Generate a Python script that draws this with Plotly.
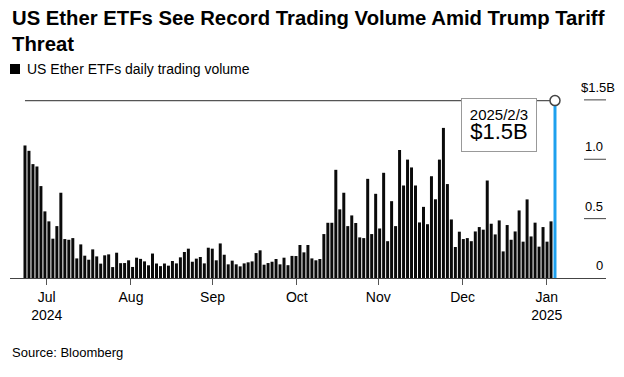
import pandas as pd
import plotly.graph_objects as go

# ---------------- data ----------------
title_text = "US Ether ETFs See Record Trading Volume Amid Trump Tariff<br>Threat"
series_name = "US Ether ETFs daily trading volume"
source_text = "Source: Bloomberg"

start_date = "2024-07-23"
end_date = "2025-02-03"
market_holidays = ["2024-09-02", "2024-11-28", "2024-12-25",
                   "2025-01-01", "2025-01-09", "2025-01-20"]

# daily trading volume, $ billions (one value per trading day)
volume_bn = [
    1.116, 1.071, 0.959, 0.939, 0.774, 0.561, 0.477, 0.331, 0.437, 0.718,
    0.328, 0.322, 0.336, 0.165, 0.283, 0.188, 0.154, 0.241, 0.182, 0.121,
    0.191, 0.199, 0.092, 0.213, 0.125, 0.126, 0.149, 0.093, 0.171, 0.161,
    0.140, 0.107, 0.206, 0.122, 0.100, 0.122, 0.104, 0.143, 0.123, 0.174,
    0.219, 0.247, 0.137, 0.163, 0.177, 0.123, 0.255, 0.247, 0.149, 0.291,
    0.196, 0.115, 0.146, 0.115, 0.098, 0.123, 0.132, 0.140, 0.210, 0.233,
    0.112, 0.126, 0.137, 0.160, 0.115, 0.171, 0.108, 0.186, 0.185, 0.278,
    0.216, 0.278, 0.165, 0.149, 0.160, 0.370, 0.465, 0.465, 0.911, 0.578,
    0.718, 0.437, 0.527, 0.463, 0.342, 0.336, 0.835, 0.370, 0.709, 0.417,
    0.886, 0.310, 0.647, 0.437, 1.078, 0.779, 0.997, 0.931, 0.779, 0.468,
    0.599, 0.453, 0.857, 0.663, 0.997, 1.264, 0.791, 0.493, 0.261, 0.390,
    0.328, 0.336, 0.310, 0.392, 0.429, 0.407, 0.821, 0.457, 0.367, 0.485,
    0.224, 0.446, 0.322, 0.392, 0.569, 0.306, 0.662, 0.350, 0.466, 0.264,
    0.429, 0.306, 0.477, 1.494,
]

month_ticks = ["2024-07-31", "2024-08-31", "2024-09-30", "2024-10-31",
               "2024-11-30", "2024-12-31", "2025-01-31"]
month_labels = ["Jul<br>2024", "Aug", "Sep", "Oct", "Nov", "Dec", "Jan<br>2025"]

y_tick_vals = [0, 0.5, 1.0, 1.5]
y_tick_text = ["0", "0.5", "1.0", "$1.5B"]

highlight_date_label = "2025/2/3"
highlight_value_label = "$1.5B"

# ---------------- build ----------------
trading_days = [d for d in pd.bdate_range(start_date, end_date)
                if d.strftime("%Y-%m-%d") not in market_holidays]
cats = [d.strftime("%Y-%m-%d") for d in trading_days]
n = len(cats)

BLACK = "#0a0a0a"
BLUE = "#1ea0ee"
GREY = "#555555"
FONT = "Liberation Sans, Arial, sans-serif"

colors = [BLACK] * (n - 1) + [BLUE]

# the page body adds an 8px offset; lay out in window pixels and convert
OFF = 8
W, H = 616, 369
PLOT_L, PLOT_R, PLOT_T, PLOT_B = 10, 606, 88, 278   # window pixels
ML = PLOT_L - OFF
MR = W - (PLOT_R - OFF)
MT = PLOT_T - OFF
MB = H - (PLOT_B - OFF)
PW = PLOT_R - PLOT_L
PH = PLOT_B - PLOT_T

def px_x(p):
    return (p - PLOT_L) / PW

def px_y(p):
    return (PLOT_B - p) / PH

# index-range of the bar axis (padding either side of the bars)
idx_lo, idx_hi = -3.76, 145.8
# matching calendar axis for month ticks
d0, d1 = trading_days[0], trading_days[-1]
days_per_idx = (d1 - d0).days / (n - 1)
cal_lo = d0 + pd.Timedelta(days=idx_lo * days_per_idx)
cal_hi = d0 + pd.Timedelta(days=idx_hi * days_per_idx)

last_val = volume_bn[-1]

fig = go.Figure()
fig.add_trace(go.Bar(x=cats, y=volume_bn, marker=dict(color=colors, line=dict(width=0)),
                     xaxis="x", yaxis="y", showlegend=False, hoverinfo="skip"))
fig.add_trace(go.Scatter(x=[cats[0], cats[-1]], y=[last_val, last_val], mode="lines",
                         line=dict(color=GREY, width=1.3), xaxis="x2", yaxis="y",
                         showlegend=False, hoverinfo="skip"))
fig.add_trace(go.Scatter(x=[cats[-1]], y=[last_val], mode="markers",
                         marker=dict(size=10, color="white", line=dict(color="#444", width=1.5)),
                         xaxis="x2", yaxis="y", showlegend=False, cliponaxis=False,
                         hoverinfo="skip"))

annotations = []
shapes = []

# title
annotations.append(dict(text=f"<b>{title_text}</b>", xref="paper", yref="paper",
                        x=px_x(10), y=px_y(5), xanchor="left", yanchor="top",
                        align="left", showarrow=False,
                        font=dict(family=FONT, size=20.3, color="#000")))
# legend
shapes.append(dict(type="rect", xref="paper", yref="paper",
                   x0=px_x(10), x1=px_x(20), y0=px_y(74), y1=px_y(64),
                   fillcolor="#000", line=dict(width=0)))
annotations.append(dict(text=series_name, xref="paper", yref="paper",
                        x=px_x(25), y=px_y(69), xanchor="left", yanchor="middle",
                        showarrow=False, font=dict(family=FONT, size=14, color="#000")))
# source
annotations.append(dict(text=source_text, xref="paper", yref="paper",
                        x=px_x(10), y=px_y(352), xanchor="left", yanchor="middle",
                        showarrow=False, font=dict(family=FONT, size=13, color="#000")))
# right-hand value labels + short grid marks
for v, t in zip(y_tick_vals, y_tick_text):
    right = 617 if t.startswith("$") else 605
    annotations.append(dict(text=t, xref="paper", yref="y", x=px_x(right), y=v,
                            xanchor="right", yanchor="bottom", yshift=3,
                            showarrow=False, font=dict(family=FONT, size=13, color="#000")))
    if v > 0:
        shapes.append(dict(type="line", xref="paper", yref="y",
                           x0=px_x(584), x1=1.0, y0=v, y1=v,
                           line=dict(color="#444", width=1)))
# highlight box
annotations.append(dict(
    text=f"{highlight_date_label}<br><span style='font-size:22px'>{highlight_value_label}</span>",
    xref="x2", yref="y", x=cats[-1], y=last_val, xanchor="right", yanchor="top",
    xshift=-18, yshift=3, width=72, height=50, align="center", valign="middle",
    showarrow=False, bgcolor="white", bordercolor="#999", borderwidth=1,
    font=dict(family=FONT, size=15, color="#000")))

fig.update_layout(
    width=W, height=H,
    margin=dict(l=ML, r=MR, t=MT, b=MB, pad=0),
    paper_bgcolor="white", plot_bgcolor="white",
    bargap=0.25,
    font=dict(family=FONT, color="#000"),
    xaxis=dict(type="category", range=[idx_lo, idx_hi], showticklabels=False,
               ticks="", showgrid=False, showline=False, zeroline=False, fixedrange=True),
    xaxis2=dict(type="date", overlaying="x", anchor="y", side="bottom",
                range=[cal_lo, cal_hi], tickvals=month_ticks, ticktext=month_labels,
                ticks="outside", ticklen=6, tickwidth=1, tickcolor=GREY,
                showline=True, linecolor="#444", linewidth=1, showgrid=False,
                zeroline=False, tickfont=dict(family=FONT, size=14, color="#000")),
    yaxis=dict(range=[0, 1.6], showticklabels=False, showgrid=False, zeroline=False,
               showline=False, ticks="", fixedrange=True),
    annotations=annotations, shapes=shapes,
)

fig.write_html("out.html")
